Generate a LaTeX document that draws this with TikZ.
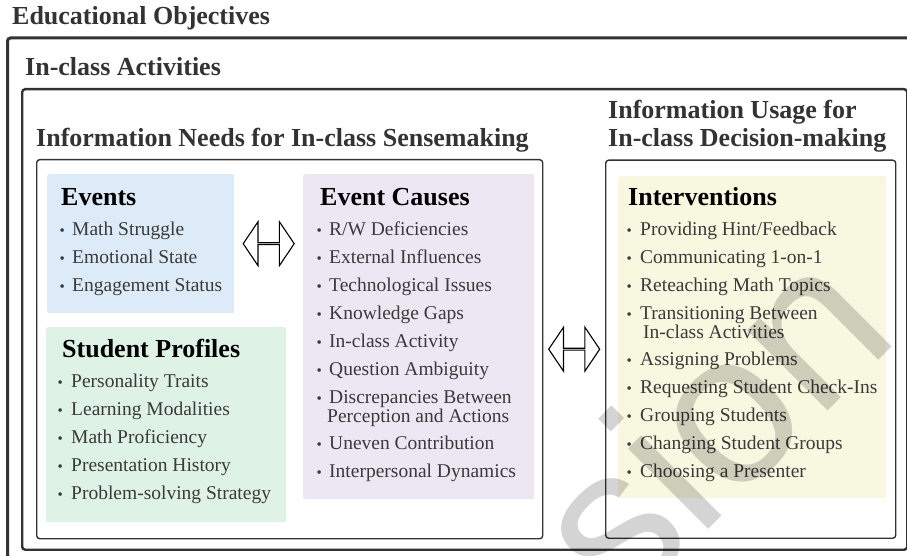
\documentclass[tikz,border=0pt]{standalone}
\usepackage{fontspec}
\setmainfont{Liberation Serif}
\newfontfamily\markfont{Liberation Sans}
\usetikzlibrary{calc}
\usetikzlibrary{positioning}
\usetikzlibrary{shapes.arrows}

\definecolor{evblue}{RGB}{221,235,248}
\definecolor{prgreen}{RGB}{223,242,230}
\definecolor{cspurple}{RGB}{236,231,243}
\definecolor{ivyellow}{RGB}{248,247,223}
\definecolor{ink}{RGB}{51,51,51}
\definecolor{itemgray}{RGB}{58,58,58}

\newcommand{\headfont}{\fontsize{26}{30}\selectfont\bfseries}
\newcommand{\listfont}{\fontsize{19.5}{22}\selectfont}
\newcommand{\bul}[1]{\makebox[#1][l]{\fontsize{15}{15}\selectfont\textbullet}}

\tikzset{
	frame/.style={draw=ink, rounded corners=3pt, anchor=north west, inner sep=0pt},
	patch/.style={rounded corners=2pt, anchor=north west, inner sep=0pt},
	heading/.style={anchor=base west, inner sep=0pt, font=\headfont},
	listitem/.style={anchor=base west, inner sep=0pt, font=\listfont, text=itemgray},
	dblarrow/.style={double arrow, draw=black, fill=white, line width=1.1pt,
		minimum height=51pt, minimum width=44pt, inner sep=0pt,
		double arrow head extend=12pt, double arrow tip angle=112}
}

\begin{document}
\begin{tikzpicture}[x=1pt, y=-1pt]
	\useasboundingbox (0,0) rectangle (907,556);
	\clip (0,0) rectangle (907,556);

	% nested frames
	\node[frame, line width=3pt, minimum width=920pt, minimum height=520pt] (objectives) at (6,36.5) {};
	\node[frame, line width=2.4pt, minimum width=885pt, minimum height=460.5pt] (inclass) at (21,88) {};
	\node[frame, line width=1.4pt, minimum width=506pt, minimum height=379pt] (needs) at (36,159) {};
	\node[frame, line width=1.4pt, minimum width=290pt, minimum height=378pt] (usage) at (605,159.5) {};

	\node[heading, text=ink] (objtitle) at (12,25) {Educational Objectives};
	\node[heading, text=ink] (inclasstitle) at (25,76) {In-class Activities};
	\node[heading, text=ink] (needstitle) at (36,147) {Information Needs for In-class Sensemaking};
	\node[heading, text=ink] (usagetitle) at (608,119) {Information Usage for};
	\node[heading, text=ink] (usagetitleb) at (608,147) {In-class Decision-making};

	% coloured groups
	\node[patch, fill=evblue, minimum width=187pt, minimum height=139pt] (events) at (47,174) {};
	\node[patch, fill=prgreen, minimum width=240pt, minimum height=195pt] (profiles) at (46,327) {};
	\node[patch, fill=cspurple, minimum width=231pt, minimum height=325pt] (causes) at (303,174) {};
	\node[patch, fill=ivyellow, minimum width=268pt, minimum height=322pt] (interv) at (618,176) {};

	\node[heading] at (61,205) {Events};
	\node[heading] at (62,357) {Student Profiles};
	\node[heading] at (320,205) {Event Causes};
	\node[heading] at (628,205) {Interventions};

	\foreach \y/\t in {235/Math Struggle,263/Emotional State,291/Engagement Status}
		\node[listitem] at (59.5,\y) {\bul{12.5pt}\t};

	\foreach \y/\t in {387/Personality Traits,415/Learning Modalities,443/Math Proficiency,
		471/Presentation History,499/Problem-solving Strategy}
		\node[listitem] at (57.5,\y) {\bul{13.5pt}\t};

	\foreach \y/\t in {235/{R/W Deficiencies},263/External Influences,291/Technological Issues,
		319/Knowledge Gaps,347/In-class Activity,375/Question Ambiguity,
		403/Discrepancies Between,449/Uneven Contribution,477/Interpersonal Dynamics}
		\node[listitem] at (316.5,\y) {\bul{12.5pt}\t};
	\node[listitem] at (327,422) {Perception and Actions};

	\foreach \y/\t in {235/{Providing Hint/Feedback},263/Communicating 1-on-1,291/Reteaching Math Topics,
		319/Transitioning Between,365/Assigning Problems,393/Requesting Student Check-Ins,
		421/Grouping Students,449/Changing Student Groups,477/Choosing a Presenter}
		\node[listitem] at (626.5,\y) {\bul{13.5pt}\t};
	\node[listitem] at (643,338) {In-class Activities};

	% two-way links
	\node[dblarrow] (evlink) at ($(events.east)!0.5!(events.east -| causes.west)$) {};
	\node[dblarrow] (uselink) at ($(needs.east)!0.5!(usage.west)$) {};

	\node[rotate=45, text=black, opacity=0.17, font=\markfont\fontsize{215}{215}\selectfont] (mark) at (708,422) {sion};
\end{tikzpicture}
\end{document}
